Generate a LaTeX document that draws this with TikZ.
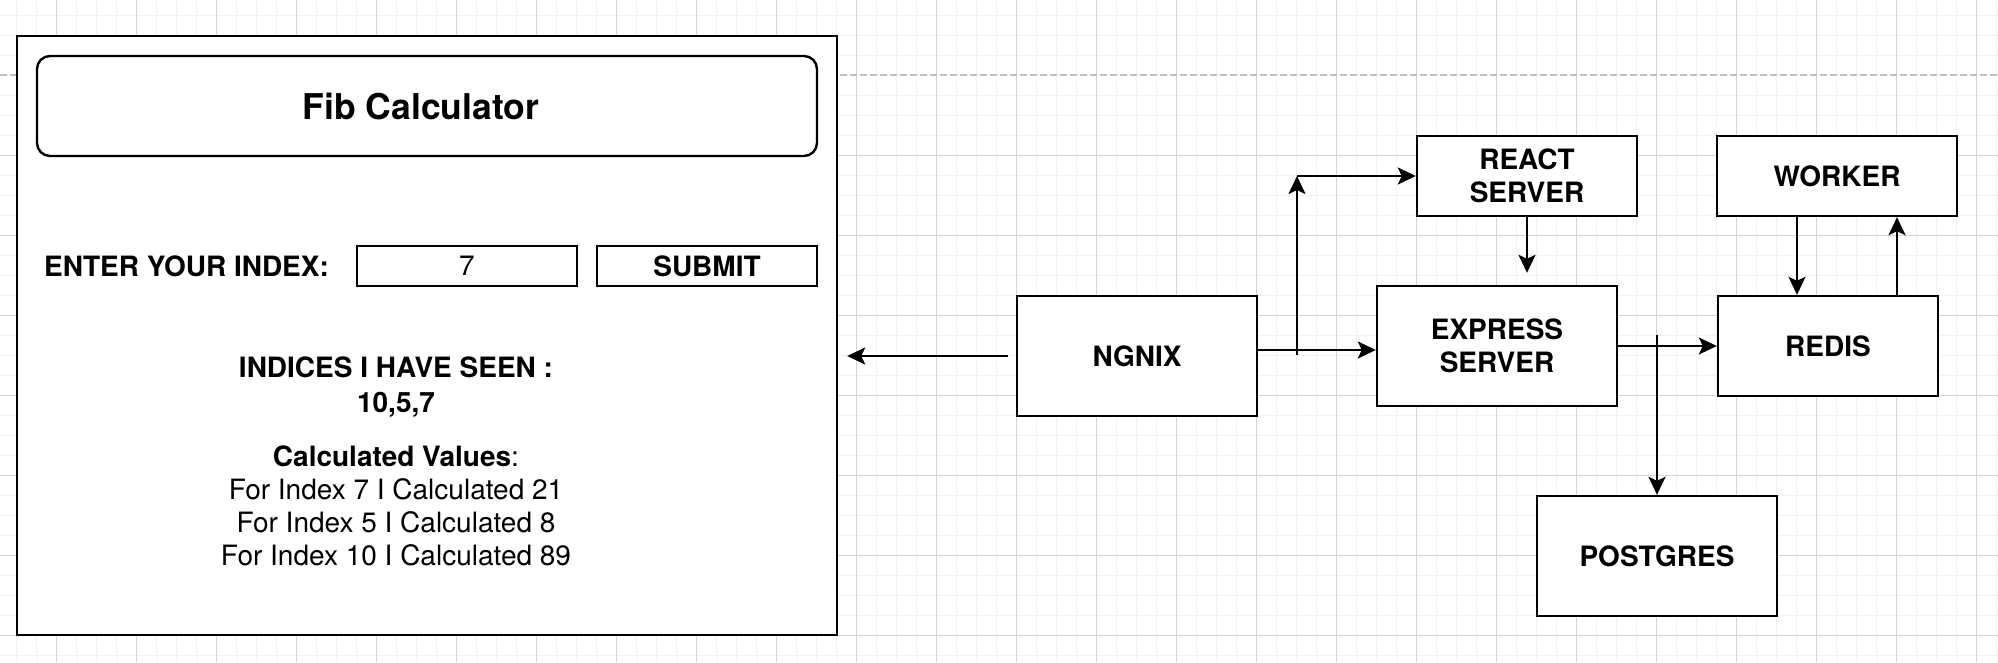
\documentclass[tikz,border=0pt]{standalone}
\usepackage{fontspec}
\setmainfont{TeX Gyre Heros}
\usepackage{tikz}
\usetikzlibrary{arrows.meta}
\usepackage{xcolor}

\definecolor{gridlite}{HTML}{F2F2F2}
\definecolor{griddark}{HTML}{D4D4D4}
\definecolor{pagebreak}{HTML}{C0C0C0}

\newcommand{\lblfont}{\fontsize{28pt}{33pt}\selectfont}

\tikzset{
  boxed/.style={rectangle, draw, line width=2.4pt, fill=white, inner sep=0pt, align=center, font=\lblfont\bfseries},
  link/.style={line width=2.2pt, -{Stealth[length=18pt,width=17pt,inset=4pt]}},
}

\begin{document}
\begin{tikzpicture}[x=1pt, y=-1pt]
          % Variables
          \def \wide   {1998}
          \def \high   {662}
          \def \gridw  {1pt}

          \useasboundingbox (0,0) rectangle (\wide,\high);

          % Grid
          \foreach \gx in {16,36,...,1996} \draw[gridlite, line width=\gridw] (\gx,0) -- (\gx,\high);
          \foreach \gy in {15,35,...,655} \draw[gridlite, line width=\gridw] (0,\gy) -- (\wide,\gy);
          \foreach \gx in {56,136,...,1976} \draw[griddark, line width=\gridw] (\gx,0) -- (\gx,\high);
          \foreach \gy in {155,235,...,635} \draw[griddark, line width=\gridw] (0,\gy) -- (\wide,\gy);
          \draw[pagebreak, line width=1.5pt, dash pattern=on 7pt off 3pt] (0,75) -- (\wide,75);

          % Calculator page
          \node[boxed, minimum width=820pt, minimum height=599pt] (panel) at (427,335.5) {};
          \node[boxed, rounded corners=13pt, minimum width=780pt, minimum height=100pt] (title) at (427,106) {};
          \node[font=\fontsize{35.5pt}{40pt}\selectfont\bfseries] (titletext) at (421,106) {Fib Calculator};
          \node[anchor=west, inner sep=0pt, font=\lblfont\bfseries] (enter) at (44,266) {ENTER YOUR INDEX:};
          \node[boxed, minimum width=220pt, minimum height=40pt, font=\lblfont] (index) at (467,266) {7};
          \node[boxed, minimum width=220pt, minimum height=40pt] (submit) at (707,266) {SUBMIT};
          \node[align=center, font=\fontsize{28pt}{35pt}\selectfont\bfseries] (seen) at (396,387) {INDICES I HAVE SEEN :\\10,5,7};
          \node[align=center, font=\lblfont] (values) at (396,506) {\textbf{Calculated Values}:\\For Index 7 I Calculated 21\\For Index 5 I Calculated 8\\For Index 10 I Calculated 89};

          % Services
          \node[boxed, minimum width=240pt, minimum height=120pt] (ngnix) at (1137,356) {NGNIX};
          \node[boxed, minimum width=220pt, minimum height=80pt] (react) at (1527,176) {REACT\\SERVER};
          \node[boxed, minimum width=240pt, minimum height=80pt] (worker) at (1837,176) {WORKER};
          \node[boxed, minimum width=240pt, minimum height=120pt] (express) at (1497,346) {EXPRESS\\SERVER};
          \node[boxed, minimum width=220pt, minimum height=100pt] (redis) at (1828,346) {REDIS};
          \node[boxed, minimum width=240pt, minimum height=120pt] (postgres) at (1657,556) {POSTGRES};

          % Arrows
          \path (panel.east |- ngnix.west) coordinate (pe);
          \draw[link] ([xshift=-8pt]ngnix.west) -- ([xshift=9pt]pe);

          \path ([yshift=6pt]ngnix.east) coordinate (nx);
          \draw[link] (nx) -- (nx -| express.west);

          \coordinate (fork) at (1297,355);
          \coordinate (turn) at (1297,176);
          \draw[link] (fork) -- (turn);
          \draw[link] (turn) -- (react.west);

          \path (react.south |- express.north) coordinate (rx);
          \draw[link] (react.south) -- ([yshift=12pt]rx);

          \draw[link] (express.east) -- (redis.west);

          \coordinate (pgtap) at (1657,335);
          \draw[link] (pgtap) -- (postgres.north);

          \path ([xshift=-40pt]worker.south) coordinate (wd);
          \draw[link] (wd) -- (wd |- redis.north);
          \path ([xshift=69pt]redis.north) coordinate (ru);
          \draw[link] (ru) -- (ru |- worker.south);

        \end{tikzpicture}
\end{document}
